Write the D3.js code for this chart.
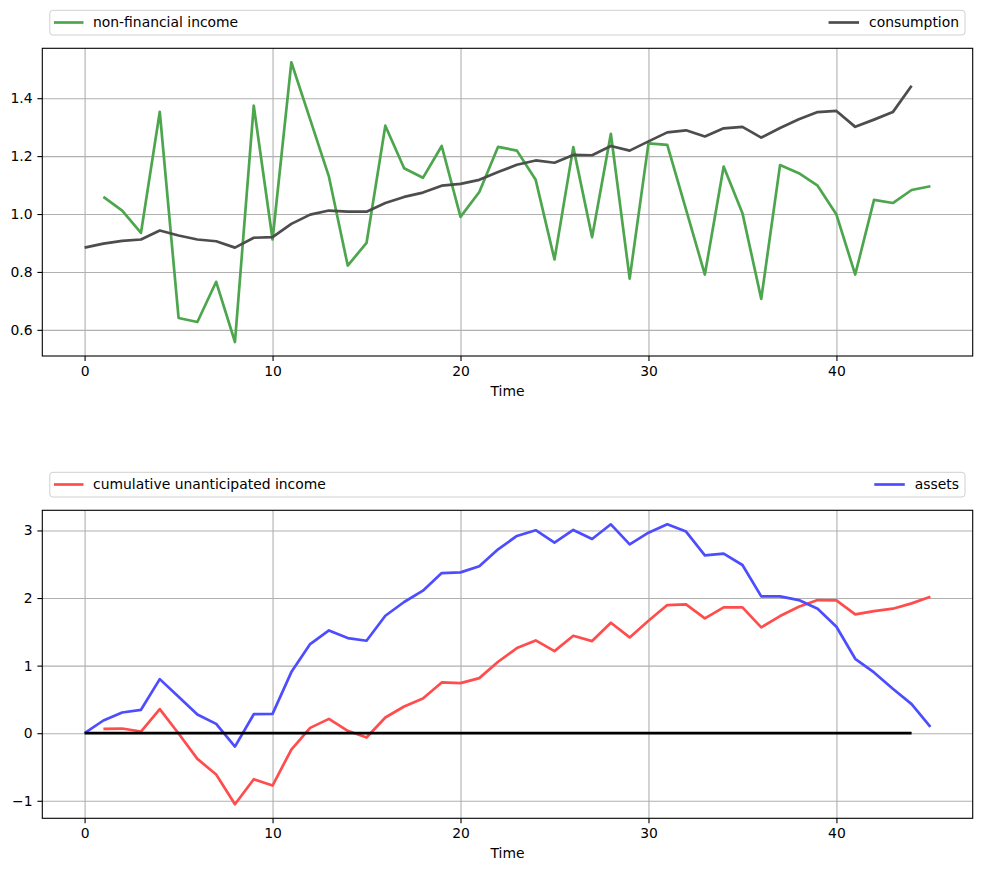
<!DOCTYPE html>
<html>
<head>
<meta charset="utf-8">
<script src="https://cdn.jsdelivr.net/npm/d3@7"></script>
<style>
  body { margin: 0; background: #fff; }
  svg { display: block; font-family: "DejaVu Sans", sans-serif; }
</style>
</head>
<body>
<svg id="display"></svg>
<script>
// values, one per period (null = not drawn)
const income = [null, 1.059, 1.012, 0.935, 1.353, 0.641, 0.627, 0.766, 0.558, 1.374,
  0.912, 1.524, 1.327, 1.129, 0.822, 0.900, 1.305, 1.158, 1.125, 1.235,
  0.990, 1.076, 1.232, 1.219, 1.118, 0.843, 1.231, 0.920, 1.277, 0.777,
  1.244, 1.239, 1.015, 0.791, 1.164, 1.003, 0.707, 1.169, 1.141, 1.098,
  0.998, 0.791, 1.049, 1.038, 1.083, 1.096]
const consumption = [0.884, 0.898, 0.907, 0.912, 0.943, 0.926, 0.912, 0.906, 0.884, 0.918,
  0.920, 0.966, 0.998, 1.012, 1.008, 1.008, 1.038, 1.059, 1.074, 1.098,
  1.104, 1.118, 1.145, 1.170, 1.185, 1.177, 1.204, 1.203, 1.235, 1.219,
  1.251, 1.282, 1.289, 1.268, 1.296, 1.301, 1.264, 1.297, 1.327, 1.352,
  1.356, 1.301, 1.326, 1.352, 1.443, null]
const cumIncome = [null, 0.064, 0.069, 0.025, 0.356, -0.005, -0.380, -0.612, -1.052, -0.681,
  -0.775, -0.242, 0.079, 0.212, 0.035, -0.064, 0.232, 0.395, 0.514, 0.751,
  0.741, 0.815, 1.057, 1.259, 1.373, 1.215, 1.442, 1.363, 1.634, 1.417,
  1.664, 1.896, 1.906, 1.699, 1.862, 1.862, 1.566, 1.733, 1.872, 1.970,
  1.965, 1.758, 1.807, 1.842, 1.921, 2.020]
const assets = [0.000, 0.188, 0.306, 0.346, 0.800, 0.538, 0.277, 0.138, -0.198, 0.281,
  0.286, 0.904, 1.319, 1.521, 1.407, 1.368, 1.738, 1.941, 2.109, 2.370,
  2.380, 2.469, 2.721, 2.919, 3.003, 2.819, 3.007, 2.874, 3.091, 2.795,
  2.967, 3.091, 2.983, 2.632, 2.657, 2.489, 2.025, 2.025, 1.970, 1.842,
  1.575, 1.101, 0.899, 0.657, 0.430, 0.094]
const zeroLine = [0, 0, 0, 0, 0, 0, 0, 0, 0, 0,
  0, 0, 0, 0, 0, 0, 0, 0, 0, 0,
  0, 0, 0, 0, 0, 0, 0, 0, 0, 0,
  0, 0, 0, 0, 0, 0, 0, 0, 0, 0,
  0, 0, 0, 0, 0, null]

const xTicks = [0, 10, 20, 30, 40]
const topYTicks = [0.6, 0.8, 1.0, 1.2, 1.4]
const bottomYTicks = [-1, 0, 1, 2, 3]

const width = 981
const height = 872
const fs = 13.9
const lw = 2.7

let svg = d3.select('#display')
  .attr('width', width)
  .attr('height', height)

const panels = [
  {
    top: 48.3, bottom: 356, legendTop: 10.3,
    yTicks: topYTicks, fmt: d3.format('.1f'),
    lines: [
      { data: income, color: 'rgb(77,166,77)' },
      { data: consumption, color: 'rgb(77,77,77)' }
    ],
    legend: [
      { label: 'non-financial income', color: 'rgb(77,166,77)' },
      { label: 'consumption', color: 'rgb(77,77,77)' }
    ]
  },
  {
    top: 510.3, bottom: 818.3, legendTop: 472.3,
    yTicks: bottomYTicks, fmt: d3.format('d'),
    lines: [
      { data: cumIncome, color: 'rgb(255,77,77)' },
      { data: assets, color: 'rgb(77,77,255)' },
      { data: zeroLine, color: '#000' }
    ],
    legend: [
      { label: 'cumulative unanticipated income', color: 'rgb(255,77,77)' },
      { label: 'assets', color: 'rgb(77,77,255)' }
    ]
  }
]

const left = 42.3
const right = 972.7

panels.forEach((p) => {
  let n = p.lines[0].data.length
  const xScale = d3.scaleLinear()
    .domain([-(n - 1) * 0.05, (n - 1) * 1.05])
    .range([left, right])

  let all = []
  p.lines.forEach((l) => l.data.forEach((v) => { if (v !== null) all.push(v) }))
  let ext = d3.extent(all)
  let pad = (ext[1] - ext[0]) * 0.05
  const yScale = d3.scaleLinear()
    .domain([ext[0] - pad, ext[1] + pad])
    .range([p.bottom, p.top])

  let g = svg.append('g')

  // grid
  g.append('g')
    .attr('transform', 'translate(0,' + p.bottom + ')')
    .call(d3.axisBottom(xScale).tickValues(xTicks).tickSize(-(p.bottom - p.top)).tickFormat(''))
    .call(s => s.select('.domain').remove())
    .call(s => s.selectAll('line').attr('stroke', '#b0b0b0').attr('stroke-width', 1.1))
  g.append('g')
    .attr('transform', 'translate(' + left + ',0)')
    .call(d3.axisLeft(yScale).tickValues(p.yTicks).tickSize(-(right - left)).tickFormat(''))
    .call(s => s.select('.domain').remove())
    .call(s => s.selectAll('line').attr('stroke', '#b0b0b0').attr('stroke-width', 1.1))

  // lines
  p.lines.forEach((l) => {
    let line = d3.line()
      .defined(d => d !== null)
      .x((d, i) => xScale(i))
      .y(d => yScale(d))
    g.append('path')
      .datum(l.data)
      .attr('d', line)
      .attr('fill', 'none')
      .attr('stroke', l.color)
      .attr('stroke-width', lw)
      .attr('stroke-linejoin', 'round')
  })

  // frame
  g.append('rect')
    .attr('x', left).attr('y', p.top)
    .attr('width', right - left).attr('height', p.bottom - p.top)
    .attr('fill', 'none').attr('stroke', '#000').attr('stroke-width', 1.1)

  // axes
  let xAxis = g.append('g')
    .attr('transform', 'translate(0,' + p.bottom + ')')
    .call(d3.axisBottom(xScale).tickValues(xTicks).tickSize(4.9).tickPadding(4.9).tickFormat(d3.format('d')))
  let yAxis = g.append('g')
    .attr('transform', 'translate(' + left + ',0)')
    .call(d3.axisLeft(yScale).tickValues(p.yTicks).tickSize(4.9).tickPadding(4.9).tickFormat(p.fmt))
  ;[xAxis, yAxis].forEach((a) => {
    a.select('.domain').remove()
    a.selectAll('line').attr('stroke', '#000').attr('stroke-width', 1.1)
    a.selectAll('text').attr('fill', '#000').style('font-size', fs + 'px').style('font-family', '"DejaVu Sans"')
  })

  g.append('text')
    .attr('x', (left + right) / 2)
    .attr('y', p.bottom + 40)
    .attr('text-anchor', 'middle')
    .style('font-size', fs + 'px')
    .text('Time')

  // legend
  let lg = g.append('g')
  lg.append('rect')
    .attr('x', 49.8).attr('y', p.legendTop)
    .attr('width', 965 - 49.8).attr('height', 24.7)
    .attr('rx', 3)
    .attr('fill', '#fff').attr('fill-opacity', 0.8)
    .attr('stroke', '#d0d0d0').attr('stroke-width', 1)
  let midY = p.legendTop + 12.2
  lg.append('line')
    .attr('x1', 54).attr('x2', 83.5).attr('y1', midY).attr('y2', midY)
    .attr('stroke', p.legend[0].color).attr('stroke-width', lw)
  lg.append('text')
    .attr('x', 93).attr('y', midY).attr('dy', '0.35em')
    .style('font-size', fs + 'px')
    .text(p.legend[0].label)
  let t2 = lg.append('text')
    .attr('x', 959).attr('y', midY).attr('dy', '0.35em')
    .attr('text-anchor', 'end')
    .style('font-size', fs + 'px')
    .text(p.legend[1].label)
  let w2 = t2.node().getComputedTextLength()
  lg.append('line')
    .attr('x1', 959 - w2 - 40.5).attr('x2', 959 - w2 - 10)
    .attr('y1', midY).attr('y2', midY)
    .attr('stroke', p.legend[1].color).attr('stroke-width', lw)
})
</script>
</body>
</html>
